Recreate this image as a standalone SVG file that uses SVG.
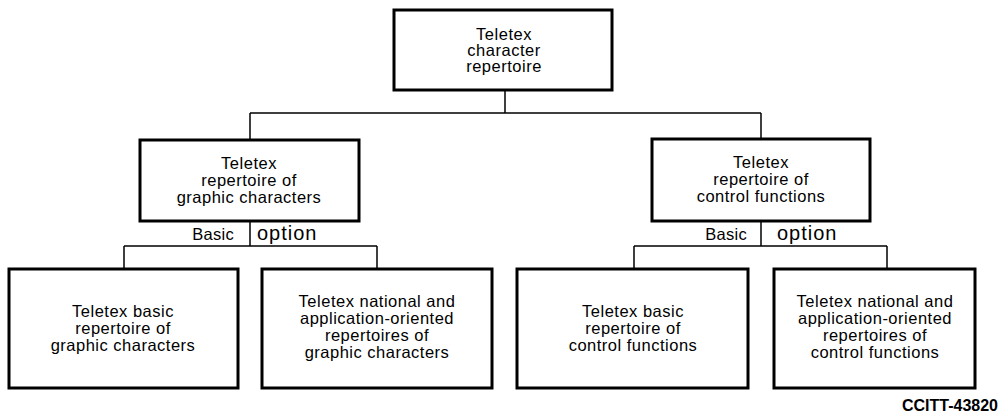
<svg xmlns="http://www.w3.org/2000/svg" width="1002" height="416" viewBox="0 0 1002 416">
<style>
.box{fill:#fff;stroke:#000;stroke-width:3}
.ln{fill:none;stroke:#000;stroke-width:1.5}
text{font-family:"Liberation Sans",Arial,sans-serif;font-size:16.5px;letter-spacing:0.5px;fill:#000;text-anchor:middle}
.opt{font-size:20px;letter-spacing:1px;text-anchor:start}
.bas{text-anchor:end;letter-spacing:0.3px}
.id{font-weight:bold;font-size:16px;letter-spacing:0;text-anchor:end}
</style>
<rect width="1002" height="416" fill="#fff"/>
<g id="connectors">
<path class="ln" d="M505 90V113M250 113H761M250 113V140M761 113V139"/>
<path class="ln" d="M250 221V246M124 246H377M124 246V269M377 246V269"/>
<path class="ln" d="M761 221V246M634 246H887M634 246V269M887 246V269"/>
</g>
<g id="root">
<rect class="box" x="394" y="10" width="218" height="80"/>
<text x="504" y="40">Teletex</text>
<text x="504" y="56">character</text>
<text x="504" y="72">repertoire</text>
</g>
<g id="graphic">
<rect class="box" x="140" y="140" width="219" height="81"/>
<text x="249" y="169">Teletex</text>
<text x="249" y="186">repertoire of</text>
<text x="249" y="203">graphic characters</text>
<text class="bas" x="234" y="240">Basic</text>
<text class="opt" x="257" y="240">option</text>
</g>
<g id="control">
<rect class="box" x="652" y="139" width="218" height="82"/>
<text x="761" y="168">Teletex</text>
<text x="761" y="185">repertoire of</text>
<text x="761" y="202">control functions</text>
<text class="bas" x="747" y="240">Basic</text>
<text class="opt" x="777" y="240">option</text>
</g>
<g id="graphic-basic">
<rect class="box" x="9" y="269" width="229" height="119"/>
<text x="123" y="317">Teletex basic</text>
<text x="123" y="334">repertoire of</text>
<text x="123" y="351">graphic characters</text>
</g>
<g id="graphic-option">
<rect class="box" x="262" y="269" width="230" height="119"/>
<text x="377" y="307">Teletex national and</text>
<text x="377" y="324">application-oriented</text>
<text x="377" y="341">repertoires of</text>
<text x="377" y="358">graphic characters</text>
</g>
<g id="control-basic">
<rect class="box" x="517" y="269" width="231" height="119"/>
<text x="633" y="317">Teletex basic</text>
<text x="633" y="334">repertoire of</text>
<text x="633" y="351">control functions</text>
</g>
<g id="control-option">
<rect class="box" x="774" y="269" width="201" height="119"/>
<text x="875" y="307">Teletex national and</text>
<text x="875" y="324">application-oriented</text>
<text x="875" y="341">repertoires of</text>
<text x="875" y="358">control functions</text>
</g>
<text class="id" x="998" y="411">CCITT-43820</text>
</svg>
